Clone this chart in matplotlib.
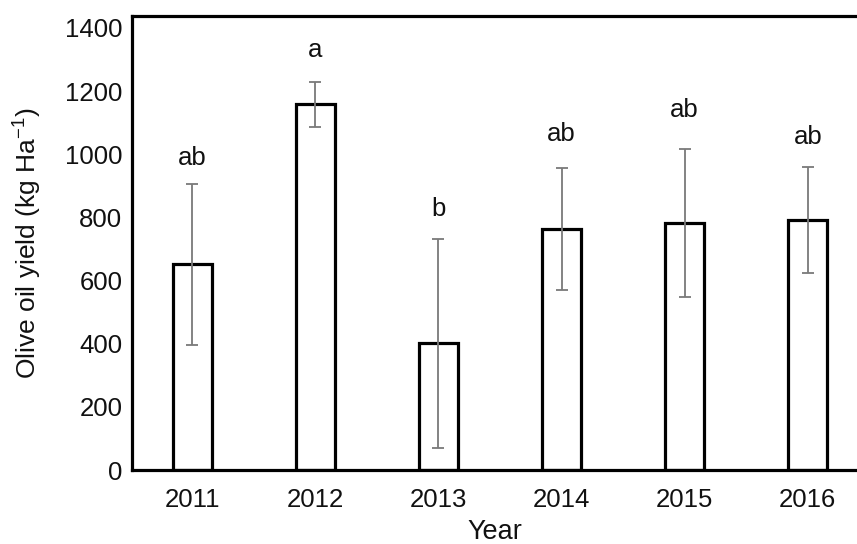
import matplotlib
matplotlib.use("Agg")
import matplotlib.pyplot as plt
import numpy as np

years = ["2011", "2012", "2013", "2014", "2015", "2016"]
yield_mean = [652, 1158, 401, 762, 783, 791]
yield_err = [255, 72, 331, 193, 234, 168]
letters = ["ab", "a", "b", "ab", "ab", "ab"]
letter_offsets = [26, 32, 30, 34, 39, 30]  # px above error bar top

plt.rcParams['font.family'] = ['Liberation Sans', 'DejaVu Sans']
plt.rcParams['mathtext.fontset'] = 'custom'
plt.rcParams['mathtext.rm'] = 'Liberation Sans'
plt.rcParams['mathtext.it'] = 'Liberation Sans'
plt.rcParams['mathtext.default'] = 'regular'

fig = plt.figure(figsize=(8.57, 5.44), dpi=100)
ax = fig.add_axes([132/857, 74/544, 1 - 132/857, (470-16)/544])

x = np.arange(len(years))
ax.bar(x, yield_mean, width=0.315, color='white', edgecolor='black',
       linewidth=2.3, yerr=yield_err,
       error_kw=dict(ecolor='#7a7a7a', elinewidth=1.3, capsize=4, capthick=1.3), zorder=2)

for xi, m, e, lab, off in zip(x, yield_mean, yield_err, letters, letter_offsets):
    ax.annotate(lab, (xi, m + e), xytext=(0, off * 0.72), textcoords='offset points',
                ha='center', va='center', fontsize=18.5, color='#111111')

ax.set_xlim(-0.49, 5.40)
ax.set_ylim(0, 1438)
ax.set_yticks(np.arange(0, 1401, 200))
ax.set_xticks(x)
ax.set_xticklabels(years)
ax.tick_params(axis='both', length=0, labelsize=18.5, colors='#111111')
ax.tick_params(axis='y', pad=7)
ax.tick_params(axis='x', pad=13)

for s in ['left', 'top', 'bottom']:
    ax.spines[s].set_linewidth(2.3)
    ax.spines[s].set_color('black')
ax.spines['right'].set_visible(False)

ax.set_xlabel('Year', fontsize=19.5, color='#111111', labelpad=5)
ax.set_ylabel('Olive oil yield (kg Ha$^{-1}$)', fontsize=19, color='#111111', labelpad=15)

fig.savefig('out.png', dpi=100)
